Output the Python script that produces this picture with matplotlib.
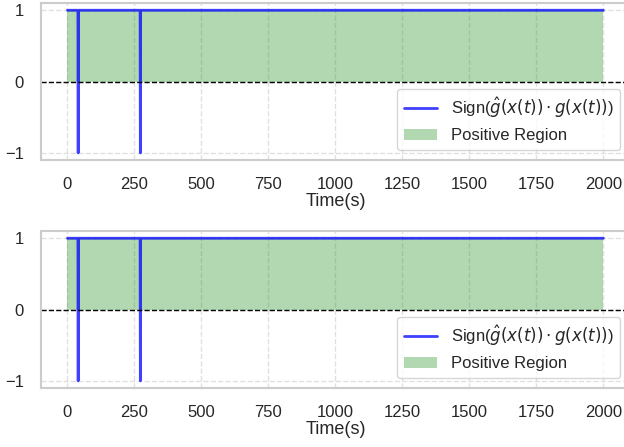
import numpy as np
import matplotlib
matplotlib.use('Agg')
import matplotlib.pyplot as plt
import seaborn as sns

# =====================
# DATA
# =====================
time_pts = [0, 39, 40, 41, 271, 272, 273, 2000]
sign_top = [1, 1, -1, 1, 1, -1, 1, 1]
sign_bottom = [1, 1, -1, 1, 1, -1, 1, 1]
region_x = [0, 2000]
region_y = [1, 1]
xticks = [0, 250, 500, 750, 1000, 1250, 1500, 1750, 2000]
yticks = [-1, 0, 1]

# =====================
# STYLE
# =====================
sns.set_theme(style='whitegrid')
plt.rcParams['font.family'] = ['Liberation Sans', 'DejaVu Sans']
plt.rcParams['grid.linestyle'] = '--'
plt.rcParams['grid.alpha'] = 0.6
plt.rcParams['axes.edgecolor'] = '0.8'
plt.rcParams['axes.linewidth'] = 1.5

fig = plt.figure(figsize=(6.24, 4.47), dpi=100)
ax1 = fig.add_axes([0.0652, 0.642, 0.9447, 0.351])
ax2 = fig.add_axes([0.0652, 0.132, 0.9447, 0.351])

for ax, sig in [(ax1, sign_top), (ax2, sign_bottom)]:
    ax.plot(time_pts, sig, color='blue', alpha=0.75, lw=2,
            label=r'Sign($\hat{g}(x(t))\cdot g(x(t))$)')
    ax.fill_between(region_x, 0, region_y, color='green', alpha=0.3,
                    lw=0, label='Positive Region')
    ax.axhline(0, color='black', ls='--', lw=1)
    ax.set_xlim(-100, 2100)
    ax.set_ylim(-1.1, 1.1)
    ax.set_xticks(xticks)
    ax.set_yticks(yticks)
    ax.tick_params(labelsize=12, colors='0.15', pad=6)
    ax.set_xlabel('Time(s)', fontsize=13, labelpad=1, color='0.15')
    ax.legend(loc='lower right', fontsize=12, framealpha=0.8,
              borderaxespad=0.6, handlelength=2.0)

fig.savefig('out.png', dpi=100)
